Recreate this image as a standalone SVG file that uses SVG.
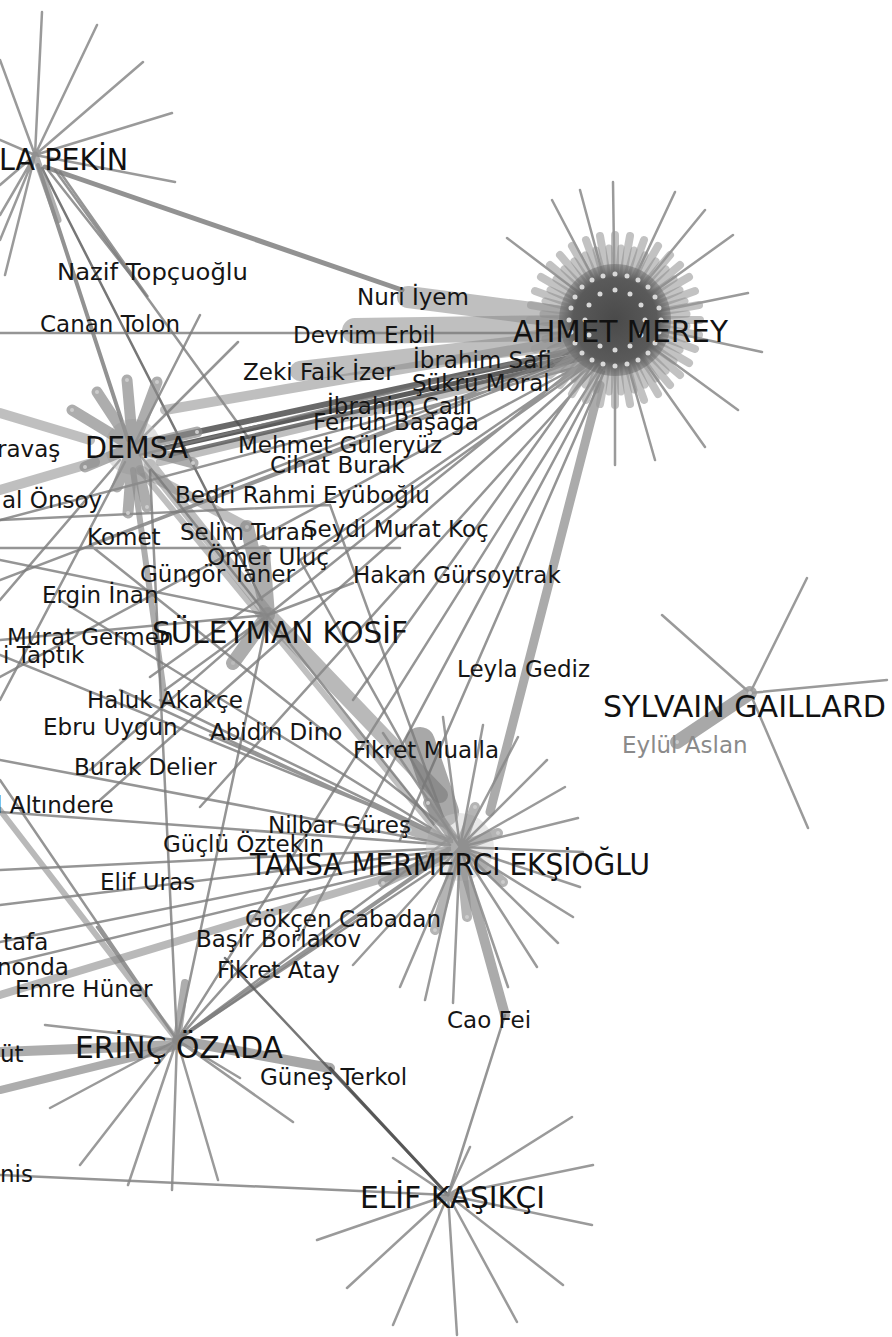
<svg xmlns="http://www.w3.org/2000/svg" width="892" height="1337" viewBox="0 0 892 1337">
<defs>
<style>
.e{stroke:#7a7a7a;stroke-opacity:.8;stroke-width:2.5;fill:none;stroke-linecap:round}
.e2{stroke:#6e6e6e;stroke-opacity:.75;stroke-width:5;fill:none;stroke-linecap:round}
.t{stroke:#8a8a8a;stroke-opacity:.55;fill:none;stroke-linecap:round}
.d{stroke:#333;stroke-opacity:.8;fill:none;stroke-linecap:round}
.sp{stroke:#8c8c8c;stroke-opacity:.6;fill:none;stroke-linecap:round}
.ls{stroke:#888;stroke-opacity:.85;stroke-width:2.5;fill:none;stroke-linecap:round}
.dot{stroke:#d8d8d8;stroke-width:5;stroke-linecap:round;fill:none}
.lb{font-family:"DejaVu Sans","Noto Sans",sans-serif;font-size:23px;fill:#151515}
.hb{font-family:"DejaVu Sans","Noto Sans",sans-serif;font-size:30px;fill:#111}
</style>
<radialGradient id="core" cx="0.5" cy="0.5" r="0.5">
<stop offset="0" stop-color="#4a4a4a"/><stop offset="0.75" stop-color="#5a5a5a"/><stop offset="1" stop-color="#6a6a6a" stop-opacity="0.5"/>
</radialGradient>
</defs>
<rect width="892" height="1337" fill="#fff"/>

<g id="connectors">
<path class="e2" d="M45 167L402 290"/>
<path class="e2" style="stroke-width:4" d="M38 165L128 440"/>
<path class="d" style="stroke-width:2.5;stroke:#555" d="M42 168L262 600"/>
<path class="e" d="M48 170L148 297L60 172"/>
<path class="e" d="M55 170L250 440"/>
<path class="t" style="stroke-width:22" d="M408 297L570 318"/>
<path class="t" style="stroke-width:26" d="M355 331L570 328"/>
<path class="t" style="stroke-width:20" d="M300 371L570 340"/>
<path class="t" style="stroke-width:10" d="M165 410L570 340"/>
<path class="t" style="stroke-width:8" d="M160 462L580 362"/>
<path class="d" style="stroke-width:6;stroke:#444" d="M160 440L600 345"/>
<path class="d" style="stroke-width:5" d="M165 448L595 352"/>
<path class="d" style="stroke-width:4;stroke:#555" d="M170 455L590 357"/>
<path class="e" d="M0 333L570 333"/>
<path class="e" d="M590 355L0 580M590 360L0 677M592 362L150 677M595 362L100 800M598 365L200 807M600 368L177 1040M602 370L298 940M604 372L400 840M585 345L140 455M585 350L190 500M588 352L90 545M590 356L268 615M594 358L300 560M596 360L353 700M597 362L0 520"/>
<path class="e" style="stroke:#888;stroke-width:9;stroke-opacity:.7" d="M600 385L490 812"/>
<path class="t" style="stroke-width:10" d="M0 413L90 440"/>
<path class="t" style="stroke-width:10" d="M0 490L95 462"/>
<path class="t" style="stroke-width:12" d="M150 465L265 610"/>
<path class="t" style="stroke-width:10" d="M140 470L247 527"/>
<path class="t" style="stroke-width:6;stroke-opacity:.7" d="M133 470L165 700"/>
<path class="t" style="stroke-width:6" d="M140 470L440 835"/>
<path class="e" d="M133 447L200 315M133 447L238 342M120 460L0 600M125 462L0 700M140 455L450 845"/>
<path class="t" style="stroke-width:16;stroke-opacity:.6" d="M268 615L440 795"/>
<path class="t" style="stroke-width:30;stroke:#6e6e6e;stroke-opacity:.6" d="M420 742L444 812"/>
<path class="e" d="M268 615L0 560M268 615L0 640M268 615L165 690M268 615L90 770M268 615L353 583"/>
<path class="e" d="M450 845L0 760M450 845L0 812M450 848L0 870M450 850L0 905M448 852L0 942M445 858L0 965M450 842L120 690M450 840L160 700M450 840L60 600M450 838L0 655M452 840L210 735M455 838L300 560M458 838L90 545M452 842L330 505M0 548L400 548M0 520L330 505"/>
<path class="t" style="stroke-width:8;stroke-opacity:.6" d="M0 995L445 860"/>
<path class="t" style="stroke-width:10;stroke-opacity:.7;stroke:#888" d="M465 870L505 1015"/>
<path class="e" style="stroke-width:4" d="M177 1040L445 855"/>
<path class="e" d="M177 1040L450 838M177 1040L430 872M177 1040L268 615M177 1040L150 470M177 1040L0 780M177 1040L97 927M177 1040L310 890"/>
<path class="t" style="stroke-width:6;stroke-opacity:.6" d="M177 1040L0 810"/>
<path class="t" style="stroke-width:10;stroke-opacity:.7" d="M0 1052L177 1045"/>
<path class="t" style="stroke-width:8;stroke-opacity:.7" d="M0 1090L170 1048"/>
<path class="t" style="stroke-width:10;stroke-opacity:.75" d="M177 1040L330 1068"/>
<path class="t" style="stroke-width:8;stroke-opacity:.7" d="M177 1040L185 983"/>
<path class="d" style="stroke-width:3" d="M330 1068L448 1195"/>
<path class="d" style="stroke-width:2.5;stroke:#555" d="M225 958L448 1195"/>
<path class="e" d="M0 1175L448 1195M448 1195L505 1015"/>
</g>

<g id="hub-pekin" transform="translate(35,155)">
<path class="ls" d="M0 0L7 -143M0 0L62 -130M0 0L108 -93M0 0L137 -42M0 0L140 27M0 0L-30 120M0 0L-35 -95M0 0L-35 -15M0 0L-35 30M0 0L-35 60M0 0L-35 85"/>
<path class="sp" style="stroke-width:7;stroke-opacity:.7" d="M0 0L23 65"/>
</g>

<g id="hub-ahmet" transform="translate(615,320)">
<path class="ls" d="M0 0L-2 -138M0 0L-63 -120M0 0L60 -128M0 0L-108 -82M0 0L118 -85M0 0L133 -27M0 0L147 32M0 0L123 90M0 0L90 127M0 0L0 145M0 0L-35 -130M0 0L90 -110M0 0L40 140"/>
<path class="sp" style="stroke-width:8;stroke:#999" d="M0 0l85 0M0 0l84 15M0 0l80 29M0 0l74 43M0 0l65 55M0 0l55 65M0 0l43 74M0 0l29 80M0 0l15 84M0 0l0 85M0 0l-15 84M0 0l-29 80M0 0l-43 74M0 0l-55 65M0 0l-65 55M0 0l-74 43M0 0l-80 29M0 0l-84 15M0 0l-85 0M0 0l-84 -15M0 0l-80 -29M0 0l-74 -43M0 0l-65 -55M0 0l-55 -65M0 0l-43 -74M0 0l-29 -80M0 0l-15 -84M0 0l0 -85M0 0l15 -84M0 0l29 -80M0 0l43 -74M0 0l55 -65M0 0l65 -55M0 0l74 -43M0 0l80 -29M0 0l84 -15"/>
<path class="sp" style="stroke-width:7;stroke:#8a8a8a;stroke-opacity:.5" d="M0 0l72 6M0 0l70 19M0 0l65 30M0 0l59 41M0 0l51 51M0 0l41 59M0 0l30 65M0 0l19 70M0 0l6 72M0 0l-6 72M0 0l-19 70M0 0l-30 65M0 0l-41 59M0 0l-51 51M0 0l-59 41M0 0l-65 30M0 0l-70 19M0 0l-72 6M0 0l-72 -6M0 0l-70 -19M0 0l-65 -30M0 0l-59 -41M0 0l-51 -51M0 0l-41 -59M0 0l-30 -65M0 0l-19 -70M0 0l-6 -72M0 0l6 -72M0 0l19 -70M0 0l30 -65M0 0l41 -59M0 0l51 -51M0 0l59 -41M0 0l65 -30M0 0l70 -19M0 0l72 -6"/>
<circle r="56" fill="url(#core)"/>
<path class="dot" d="M46 0h0M44 12h0M40 23h0M33 33h0M23 40h0M12 44h0M0 46h0M-12 44h0M-23 40h0M-33 33h0M-40 23h0M-44 12h0M-46 0h0M-44 -12h0M-40 -23h0M-33 -33h0M-23 -40h0M-12 -44h0M0 -46h0M12 -44h0M23 -40h0M33 -33h0M40 -23h0M44 -12h0M30 0h0M26 15h0M15 26h0M0 30h0M-15 26h0M-26 15h0M-30 0h0M-26 -15h0M-15 -26h0M0 -30h0M15 -26h0M26 -15h0"/>
</g>

<g id="hub-demsa" transform="translate(133,447)">
<circle r="28" fill="#bbb" fill-opacity=".45"/>
<path class="sp" style="stroke-width:11;stroke-opacity:.7;stroke:#8a8a8a" d="M0 0L-36 -55M0 0L-6 -67M0 0L24 -65M0 0L64 -15M0 0L60 16M0 0L-5 66M0 0L14 60M0 0L-16 40M0 0L-48 20M0 0L-61 -37"/>
<path class="dot" style="stroke:#ccc;stroke-width:4" d="M-36 -55h0M-6 -67h0M24 -65h0M64 -15h0M60 16h0M-5 66h0M14 60h0M-48 20h0M-61 -37h0"/>
</g>

<g id="hub-suleyman" transform="translate(268,615)">
<path class="sp" style="stroke-width:14;stroke-opacity:.7;stroke:#8a8a8a" d="M0 0L-21 -88M0 0L-5 -63M0 0L-35 48"/>
<path class="dot" style="stroke:#bbb;stroke-width:4" d="M-21 -88h0M-5 -63h0M-35 48h0"/>
</g>

<g id="hub-tansa" transform="translate(460,847)">
<circle r="34" fill="#ccc" fill-opacity=".45"/>
<path class="ls" d="M0 0L58 -110M0 0L87 -87M0 0L105 -60M0 0L118 -29M0 0L123 5M0 0L120 40M0 0L113 70M0 0L98 96M0 0L77 120M0 0L48 140M0 0L-7 156M0 0L-35 153M0 0L-60 140M0 0L-107 118M0 0L23 -122M0 0L-17 -130M0 0L-77 -114"/>
<path class="sp" style="stroke-width:10;stroke-opacity:.65" d="M0 0L-32 -44M0 0L15 -40M0 0L38 -14M0 0L43 35M0 0L7 70M0 0L-25 83M0 0L-77 36M0 0L-50 -17"/>
<path class="dot" style="stroke:#ccc;stroke-width:4" d="M-32 -44h0M15 -40h0M38 -14h0M43 35h0M7 70h0M-25 83h0M-77 36h0M-50 -17h0"/>
</g>

<g id="hub-sylvain" transform="translate(750,693)">
<path class="ls" d="M0 0L-88 -78M0 0L57 -115M0 0L137 -13M0 0L58 135"/>
<path class="sp" style="stroke-width:14;stroke-opacity:.85;stroke:#999" d="M0 0L-73 49"/>
<path class="dot" style="stroke:#ccc;stroke-width:4" d="M0 0h0M-73 49h0"/>
</g>

<g id="hub-erinc" transform="translate(177,1040)">
<path class="ls" d="M0 0L-132 -15M0 0L-127 68M0 0L63 38M0 0L116 82M0 0L-97 125M0 0L-49 145M0 0L-5 150M0 0L41 140"/>
</g>

<g id="hub-elif" transform="translate(448,1195)">
<path class="ls" d="M0 0L124 -78M0 0L145 -30M0 0L144 30M0 0L115 90M0 0L69 127M0 0L9 140M0 0L-55 130M0 0L-101 93M0 0L-131 45M0 0L-55 -37M0 0L22 -48"/>
</g>

<g id="labels">
<text class="hb" x="-1" y="170" textLength="129" lengthAdjust="spacingAndGlyphs">LA PEKİN</text>
<text class="lb" x="57" y="280" textLength="191" lengthAdjust="spacingAndGlyphs">Nazif Topçuoğlu</text>
<text class="lb" x="357" y="305">Nuri İyem</text>
<text class="lb" x="40" y="332">Canan Tolon</text>
<text class="lb" x="293" y="343">Devrim Erbil</text>
<text class="hb" x="513" y="342" textLength="215" lengthAdjust="spacingAndGlyphs">AHMET MEREY</text>
<text class="lb" x="413" y="368">İbrahim Safi</text>
<text class="lb" x="243" y="380">Zeki Faik İzer</text>
<text class="lb" x="412" y="391">Şükrü Moral</text>
<text class="lb" x="327" y="414">İbrahim Çallı</text>
<text class="lb" x="313" y="430">Ferruh Başağa</text>
<text class="lb" x="-3" y="457">ravaş</text>
<text class="hb" x="85" y="458" textLength="103" lengthAdjust="spacingAndGlyphs">DEMSA</text>
<text class="lb" x="238" y="453">Mehmet Güleryüz</text>
<text class="lb" x="270" y="473">Cihat Burak</text>
<text class="lb" x="175" y="503">Bedri Rahmi Eyüboğlu</text>
<text class="lb" x="2" y="508">al Önsoy</text>
<text class="lb" x="180" y="540">Selim Turan</text>
<text class="lb" x="303" y="537">Seydi Murat Koç</text>
<text class="lb" x="87" y="545">Komet</text>
<text class="lb" x="207" y="565">Ömer Uluç</text>
<text class="lb" x="140" y="582">Güngör Taner</text>
<text class="lb" x="353" y="583">Hakan Gürsoytrak</text>
<text class="lb" x="42" y="603">Ergin İnan</text>
<text class="lb" x="7" y="645">Murat Germen</text>
<text class="hb" x="152" y="643" textLength="256" lengthAdjust="spacingAndGlyphs">SÜLEYMAN KOSİF</text>
<text class="lb" x="3" y="663">i Taptık</text>
<text class="lb" x="457" y="677">Leyla Gediz</text>
<text class="lb" x="87" y="708">Haluk Akakçe</text>
<text class="hb" x="603" y="717" textLength="283" lengthAdjust="spacingAndGlyphs">SYLVAIN GAILLARD</text>
<text class="lb" x="43" y="735">Ebru Uygun</text>
<text class="lb" x="210" y="740">Abidin Dino</text>
<text class="lb" x="622" y="753" style="fill:#8a8a8a">Eylül Aslan</text>
<text class="lb" x="353" y="758">Fikret Mualla</text>
<text class="lb" x="74" y="775">Burak Delier</text>
<text class="lb" x="-4" y="813">l Altındere</text>
<text class="lb" x="268" y="833">Nilbar Güreş</text>
<text class="lb" x="163" y="852">Güçlü Öztekin</text>
<text class="hb" x="250" y="875" textLength="400" lengthAdjust="spacingAndGlyphs">TANSA MERMERCİ EKŞİOĞLU</text>
<text class="lb" x="100" y="890">Elif Uras</text>
<text class="lb" x="245" y="927">Gökçen Cabadan</text>
<text class="lb" x="196" y="947">Başir Borlakov</text>
<text class="lb" x="3" y="950">tafa</text>
<text class="lb" x="-3" y="975">nonda</text>
<text class="lb" x="217" y="978">Fikret Atay</text>
<text class="lb" x="15" y="997">Emre Hüner</text>
<text class="lb" x="447" y="1028">Cao Fei</text>
<text class="hb" x="75" y="1058" textLength="208" lengthAdjust="spacingAndGlyphs">ERİNÇ ÖZADA</text>
<text class="lb" x="0" y="1062">üt</text>
<text class="lb" x="260" y="1085">Güneş Terkol</text>
<text class="lb" x="0" y="1182">nis</text>
<text class="hb" x="360" y="1208" textLength="185" lengthAdjust="spacingAndGlyphs">ELİF KAŞIKÇI</text>
</g>
</svg>
